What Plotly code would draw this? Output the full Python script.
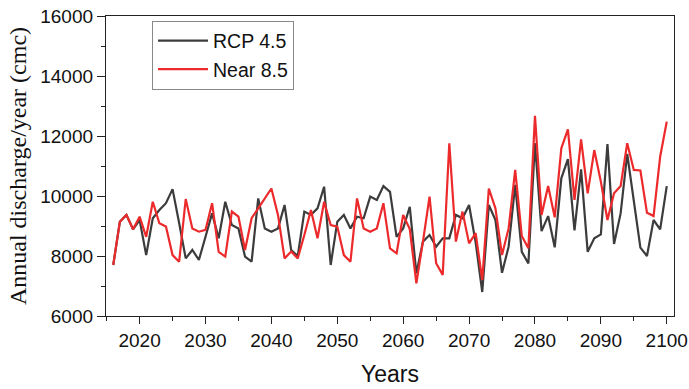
import plotly.graph_objects as go

years = list(range(2016, 2101))

near_85 = [7700, 9140, 9370, 8890, 9310, 8640, 9810, 9090, 8980, 8030,
           7810, 9900, 8920, 8810, 8870, 9760, 8140, 7980, 9480, 9310,
           8200, 9260, 9590, 9920, 10250, 9370, 7920, 8150, 7920, 8700,
           9530, 8590, 9810, 9030, 8980, 8030, 7810, 9920, 8920, 8810,
           8920, 9760, 8250, 8090, 9370, 8900, 7090, 8480, 9980, 7760,
           7370, 11760, 8480, 9480, 8420, 8760, 7200, 10250, 9590, 8030,
           8920, 10870, 8670, 8260, 12670, 9370, 10330, 9290, 11590, 12220,
           9870, 11890, 10090, 11530, 10480, 9200, 10090, 10330, 11760, 10870,
           10850, 9440, 9330, 11310, 12480]

rcp_45 = [7700, 9140, 9370, 8890, 9200, 8030, 9260, 9530, 9760, 10230,
          9100, 7920, 8200, 7870, 8640, 9420, 8590, 9810, 9030, 8920,
          7980, 7810, 9920, 8920, 8810, 8920, 9700, 8200, 8000, 9480,
          9370, 9590, 10310, 7700, 9140, 9370, 8920, 9310, 9260, 9980,
          9870, 10330, 10140, 8640, 8920, 9640, 7420, 8480, 8700, 8310,
          8590, 8590, 9370, 9260, 9700, 8450, 6800, 9700, 9200, 7440,
          8310, 10370, 8140, 7750, 11760, 8830, 9330, 8290, 10590, 11230,
          8850, 10890, 8140, 8590, 8720, 11730, 8400, 9420, 11400, 9760,
          8280, 8000, 9200, 8890, 10330]

x_ticks = [2020, 2030, 2040, 2050, 2060, 2070, 2080, 2090, 2100]
y_ticks = [6000, 8000, 10000, 12000, 14000, 16000]
y_labels = ["6000", "8000", "10000", "12000", "14000", "16000"]

fig = go.Figure()
fig.add_trace(go.Scatter(x=years, y=rcp_45, mode="lines", name="RCP 4.5",
                         line=dict(color="#3c3c3c", width=2.2)))
fig.add_trace(go.Scatter(x=years, y=near_85, mode="lines", name="Near 8.5",
                         line=dict(color="#ec2a2c", width=2.2)))

axis_font = dict(family="Liberation Sans, Arial, sans-serif", size=19, color="#111")

fig.update_layout(
    width=689, height=389,
    margin=dict(l=106, r=15, t=16, b=73),
    plot_bgcolor="white", paper_bgcolor="white",
    showlegend=True,
    legend=dict(x=0.081, y=0.985, xanchor="left", yanchor="top",
                bordercolor="#888", borderwidth=1, bgcolor="white",
                font=dict(family="Liberation Sans, Arial, sans-serif", size=19.5, color="#111"),
                itemwidth=50, tracegroupgap=0),
    xaxis=dict(range=[2014.9, 2101.1], tickvals=x_ticks, automargin=False,
               ticks="outside", ticklen=7, tickwidth=1.3, tickcolor="#222",
               showline=True, linecolor="#222", linewidth=1.3, mirror=True,
               showgrid=False, zeroline=False, tickfont=axis_font,
               minor=dict(dtick=5, tick0=2015, ticks="outside", ticklen=4,
                          tickwidth=1.3, tickcolor="#222", showgrid=False),
               title=dict(text="Years", standoff=15,
                          font=dict(family="Liberation Sans, Arial, sans-serif", size=23, color="#111"))),
    yaxis=dict(range=[6000, 16000], tickvals=y_ticks, ticktext=y_labels, automargin=False,
               ticks="outside", ticklen=8, tickwidth=1.3, tickcolor="#222",
               showline=True, linecolor="#222", linewidth=1.3, mirror=True,
               showgrid=False, zeroline=False, tickfont=axis_font,
               minor=dict(dtick=1000, ticks="outside", ticklen=4,
                          tickwidth=1.3, tickcolor="#222", showgrid=False),
               title=dict(text="Annual discharge/year (cmc)", standoff=6,
                          font=dict(family="Liberation Serif, Times New Roman, serif", size=24, color="#111"))),
)

fig.write_html("out.html")
